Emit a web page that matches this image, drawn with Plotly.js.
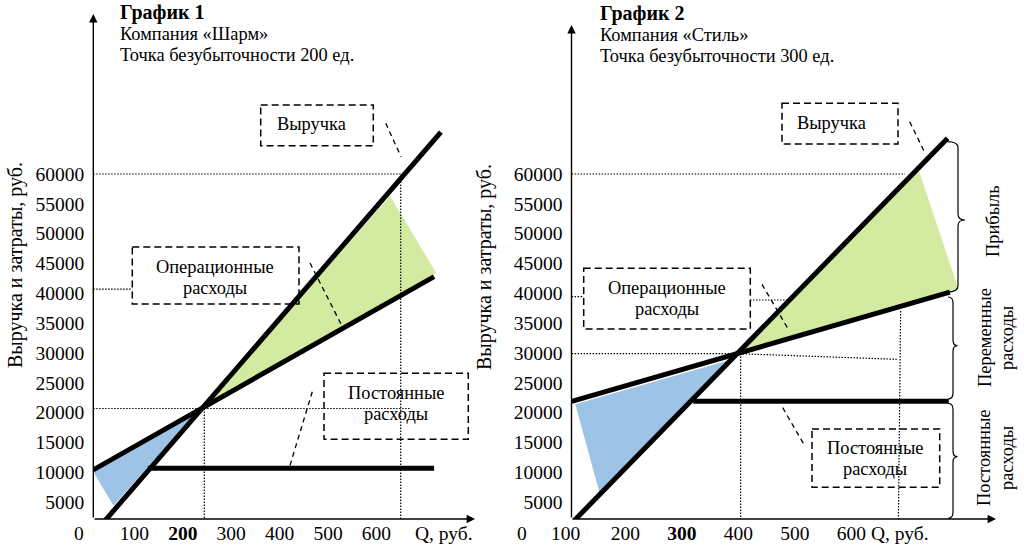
<!DOCTYPE html>
<html>
<head>
<meta charset="utf-8">
<script src="https://cdn.plot.ly/plotly-3.0.1.min.js"></script>
<style>html,body{margin:0;padding:0;background:#fff}</style>
</head>
<body>
<div id="chart" style="width:1024px;height:551px"></div>
<script>
// axis ticks
const qTicks1 = [100, 200, 300, 400, 500, 600];
const qTickText1 = ['100', '<b>200</b>', '300', '400', '500', '600'];
const qTicks2 = [200, 300, 400, 500, 600];
const qTickText2 = ['200', '<b>300</b>', '400', '500', '600'];
const rubTicks = [5000, 10000, 15000, 20000, 25000, 30000, 35000, 40000, 45000, 50000, 55000, 60000];

// График 1 — «Шарм» (in axis units)
const rev1Q = [33, 733], rev1 = [1300, 67000];
const tc1Q = [15, 719], tc1 = [10400, 42800];
const fc1Q = [128, 719], fc1 = [10700, 10700];
const loss1Q = [15, 233, 57], loss1 = [10140, 20500, 4400];
const profit1Q = [248, 628, 723], profit1 = [21300, 56300, 43450];
const g60x1 = [15, 650, 650], g60y1 = [60000, 60000, 2179];
const g20x1 = [15, 669], g20y1 = [20700, 20700];
const vBEx1 = [244.5, 244.5], vBEy1 = [20700, 2179];
const g40x1 = [15, 96], g40y1 = [40700, 40700];

// График 2 — «Стиль»
const rev2Q = [105, 770], rev2 = [1460, 66000];
const tc2Q = [105, 774], tc2 = [21900, 40200];
const fc2Q = [320, 772], fc2 = [21900, 21900];
const loss2Q = [111.6, 383.4, 154], loss2 = [21400, 28800, 6750];
const profit2Q = [400, 717, 789], profit2 = [30000, 61200, 40800];
const g60x2 = [105, 695], g60y2 = [60000, 60000];
const g30x2 = [105, 397, 680], g30y2 = [29900, 29900, 28940];
const vBEx2 = [404, 404], vBEy2 = [29900, 2179];
const vQx2 = [687, 683], vQy2 = [37040, 2179];
const g40x2 = [105, 126.5, null, 420.6, 486], g40y2 = [39430, 39430, null, 38880, 38880];

const FONT = 'Liberation Serif, Times New Roman, serif';
const W = 1024, H = 551;
const X = p => p / W;
const Y = p => 1 - p / H;

const BLUE = '#9dc3e6', GREEN = '#d3eaa1';

function fill(x, y, color, xa, ya) {
  return {x: x, y: y, xaxis: xa, yaxis: ya, type: 'scatter', mode: 'lines', fill: 'toself',
    fillcolor: color, line: {width: 0}, hoverinfo: 'skip'};
}
function thick(x, y, xa, ya) {
  return {x: x, y: y, xaxis: xa, yaxis: ya, type: 'scatter', mode: 'lines',
    line: {color: '#000', width: 5}, hoverinfo: 'skip'};
}
function dotted(x, y, xa, ya) {
  return {x: x, y: y, xaxis: xa, yaxis: ya, type: 'scatter', mode: 'lines', connectgaps: false,
    line: {color: '#000', width: 1.2, dash: '1.5px,1.5px'}, hoverinfo: 'skip'};
}

const traces = [
  fill(loss1Q, loss1, BLUE, 'x', 'y'),
  fill(profit1Q, profit1, GREEN, 'x', 'y'),
  dotted(g60x1, g60y1, 'x', 'y'),
  dotted(g20x1, g20y1, 'x', 'y'),
  dotted(vBEx1, vBEy1, 'x', 'y'),
  dotted(g40x1, g40y1, 'x', 'y'),
  thick(rev1Q, rev1, 'x', 'y'),
  thick(tc1Q, tc1, 'x', 'y'),
  thick(fc1Q, fc1, 'x', 'y'),

  fill(loss2Q, loss2, BLUE, 'x2', 'y2'),
  fill(profit2Q, profit2, GREEN, 'x2', 'y2'),
  dotted(g60x2, g60y2, 'x2', 'y2'),
  dotted(g30x2, g30y2, 'x2', 'y2'),
  dotted(vBEx2, vBEy2, 'x2', 'y2'),
  dotted(vQx2, vQy2, 'x2', 'y2'),
  dotted(g40x2, g40y2, 'x2', 'y2'),
  thick(rev2Q, rev2, 'x2', 'y2'),
  thick(tc2Q, tc2, 'x2', 'y2'),
  thick(fc2Q, fc2, 'x2', 'y2')
];

// text helpers (pixel positions on the page)
const TXT = 18.4, TICK = 19.5;
function txt(x, y, text, extra) {
  return Object.assign({xref: 'paper', yref: 'paper', x: X(x), y: Y(y), text: text,
    showarrow: false, xanchor: 'center', yanchor: 'middle',
    font: {family: FONT, size: TXT, color: '#000'}}, extra || {});
}
function arrow(x, y, ax, ay) {
  return {xref: 'paper', yref: 'paper', x: X(x), y: Y(y), ax: ax, ay: ay, text: '',
    showarrow: true, arrowhead: 2, arrowsize: 1.2, arrowwidth: 1.4, arrowcolor: '#000', standoff: 0};
}
function box(x0, y0, x1, y1) {
  return {type: 'rect', xref: 'paper', yref: 'paper', x0: X(x0), x1: X(x1), y0: Y(y0), y1: Y(y1),
    line: {color: '#000', width: 1.5, dash: '7px,4px'}};
}
function pointer(x0, y0, x1, y1) {
  return {type: 'line', xref: 'paper', yref: 'paper', x0: X(x0), x1: X(x1), y0: Y(y0), y1: Y(y1),
    line: {color: '#000', width: 1.3, dash: '5px,4px'}};
}
function brace(x0, stem, tip, y0, ym, y1) {
  const r = 6;
  const p = (a, b) => X(a) + ',' + Y(b);
  const d = 'M' + p(x0, y0) + ' Q' + p(stem, y0) + ' ' + p(stem, y0 + r) +
    ' L' + p(stem, ym - r) + ' Q' + p(stem, ym) + ' ' + p(tip, ym) +
    ' Q' + p(stem, ym) + ' ' + p(stem, ym + r) +
    ' L' + p(stem, y1 - r) + ' Q' + p(stem, y1) + ' ' + p(x0, y1);
  return {type: 'path', xref: 'paper', yref: 'paper', path: d, line: {color: '#000', width: 1.2}};
}

const bold = {font: {family: FONT, size: 20, color: '#000'}};
const tickF = {font: {family: FONT, size: TICK, color: '#000'}};
const annotations = [
  // axes
  arrow(93.3, 14, 0, 505), arrow(475, 519, -382, 0),
  arrow(571.5, 25, 0, 494), arrow(996, 519, -425, 0),
  // headings
  txt(117.5, 12.5, '<b>График 1</b>', Object.assign({xanchor: 'left'}, bold)),
  txt(117.5, 33.5, 'Компания «Шарм»', {xanchor: 'left'}),
  txt(117.5, 54.5, 'Точка безубыточности 200 ед.', {xanchor: 'left'}),
  txt(597.5, 13, '<b>График 2</b>', Object.assign({xanchor: 'left'}, bold)),
  txt(597.5, 35, 'Компания «Стиль»', {xanchor: 'left'}),
  txt(597.5, 56, 'Точка безубыточности 300 ед.', {xanchor: 'left'}),
  // axis titles
  txt(15, 265, 'Выручка и затраты, руб.', {textangle: -90, font: {family: FONT, size: 20, color: '#000'}}),
  txt(484, 267, 'Выручка и затраты, руб.', {textangle: -90, font: {family: FONT, size: 20, color: '#000'}}),
  txt(86, 533, '0', Object.assign({xanchor: 'right'}, tickF)),
  txt(529, 533, '0', Object.assign({xanchor: 'right'}, tickF)),
  txt(565.3, 533, '100', tickF),
  txt(443.5, 533, 'Q, руб.', tickF),
  txt(900, 533, 'Q, руб.', tickF),
  // box labels
  txt(311, 124, 'Выручка'),
  txt(215, 266.5, 'Операционные'), txt(215, 288, 'расходы'),
  txt(396, 393, 'Постоянные'), txt(396, 413.5, 'расходы'),
  txt(831, 123, 'Выручка'),
  txt(667, 287.5, 'Операционные'), txt(667, 308.5, 'расходы'),
  txt(875, 447.5, 'Постоянные'), txt(875, 468.5, 'расходы'),
  // brace labels
  txt(993.5, 221.5, 'Прибыль', {textangle: -90}),
  txt(985, 338, 'Переменные', {textangle: -90}),
  txt(1007, 338, 'расходы', {textangle: -90}),
  txt(984, 458, 'Постоянные', {textangle: -90}),
  txt(1007, 458, 'расходы', {textangle: -90})
];

const shapes = [
  box(260.7, 105, 373.3, 145.7), pointer(385.7, 123.3, 401, 156.7),
  box(132.3, 247, 299, 304), pointer(310, 263, 342, 326),
  box(324, 373.3, 468.3, 439.3), pointer(312.3, 391.7, 289.3, 467.7),
  box(782, 103.3, 898, 144), pointer(909.7, 121.7, 924.3, 151.7),
  box(583.7, 268.3, 750.3, 329), pointer(762, 284.3, 788.7, 330),
  box(812, 429, 939.7, 487.3), pointer(782.7, 407.7, 804.7, 445.7),
  brace(947, 958, 965, 141.7, 220, 292),
  brace(948, 953, 957.5, 297, 345.7, 399),
  brace(948, 953, 957.5, 403.3, 456.7, 518.3)
];

const tickFont = {family: FONT, size: TICK, color: '#000'};
const yDomain = [Y(519), Y(16)];
const yRange = [2179, 86476];
const common = {showgrid: false, zeroline: false, showline: false, ticks: '', fixedrange: true, tickfont: tickFont};

const layout = {
  width: W, height: H,
  margin: {l: 0, r: 0, t: 0, b: 0},
  paper_bgcolor: '#fff', plot_bgcolor: 'rgba(0,0,0,0)',
  showlegend: false, hovermode: false,
  font: {family: FONT, color: '#000'},
  xaxis: Object.assign({}, common, {domain: [X(93.3), X(473)], range: [15.28, 799.3], anchor: 'y',
    tickvals: qTicks1, ticktext: qTickText1}),
  yaxis: Object.assign({}, common, {domain: yDomain, range: yRange, anchor: 'x',
    tickvals: rubTicks, ticktext: rubTicks.map(String), ticklabelstandoff: 8}),
  xaxis2: Object.assign({}, common, {domain: [X(571.5), X(994)], range: [104.88, 852.1], anchor: 'y2',
    tickvals: qTicks2, ticktext: qTickText2}),
  yaxis2: Object.assign({}, common, {domain: yDomain, range: yRange, anchor: 'x2',
    tickvals: rubTicks, ticktext: rubTicks.map(String), ticklabelstandoff: 8}),
  annotations: annotations,
  shapes: shapes
};

Plotly.newPlot('chart', traces, layout, {staticPlot: true, displayModeBar: false});
</script>
</body>
</html>
